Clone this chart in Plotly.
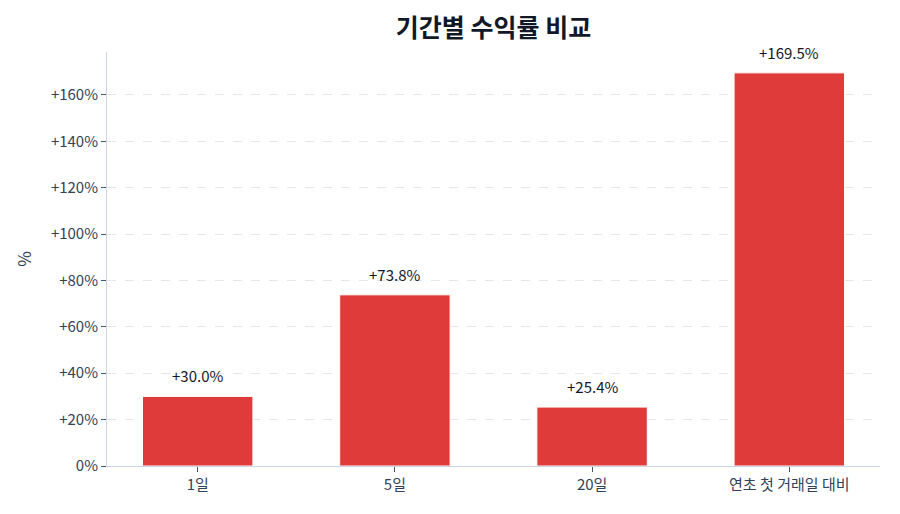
import plotly.graph_objects as go

categories = ["1일", "5일", "20일", "연초 첫 거래일 대비"]
values = [30.0, 73.8, 25.4, 169.5]
tick_vals = [0, 20, 40, 60, 80, 100, 120, 140, 160]
tick_text = ["0%", "+20%", "+40%", "+60%", "+80%", "+100%", "+120%", "+140%", "+160%"]
labels = [f"+{v:.1f}%" for v in values]

FONT = "Noto Sans CJK KR"

fig = go.Figure()
fig.add_trace(go.Bar(
    x=categories, y=values, width=0.56,
    marker=dict(color="#e03b3b", line=dict(color="white", width=1)),
    hoverinfo="skip",
))
for c, v, t in zip(categories, values, labels):
    fig.add_annotation(x=c, y=v, text=t, showarrow=False, yanchor="bottom", yshift=8,
                       font=dict(family=FONT, size=15, color="#111827"))

fig.update_layout(
    width=900, height=514,
    margin=dict(l=99, r=28, t=44, b=56),
    paper_bgcolor="white", plot_bgcolor="white",
    showlegend=False,
    font=dict(family=FONT, size=15, color="#334155"),
    title=dict(text="<b>기간별 수익률 비교</b>", x=0.5, xref="paper", xanchor="center",
               y=0.96, yanchor="middle",
               font=dict(family=FONT, size=25, color="#111827")),
    xaxis=dict(range=[-0.46, 3.46], showline=True, linecolor="#cbd5e1", linewidth=1,
               ticks="outside", ticklen=5, tickcolor="#475569", showgrid=False,
               tickfont=dict(size=15, color="#334155")),
    yaxis=dict(range=[0, 178.5], tickvals=tick_vals, ticktext=tick_text,
               showline=True, linecolor="#cbd5e1", linewidth=1,
               ticks="outside", ticklen=5, tickcolor="#475569",
               showgrid=True, gridcolor="#e5e7eb", griddash="dash", gridwidth=1,
               zeroline=False,
               title=dict(text="%", font=dict(size=17, color="#334155"), standoff=14),
               tickfont=dict(size=15, color="#334155")),
)
fig.write_html("out.html")
